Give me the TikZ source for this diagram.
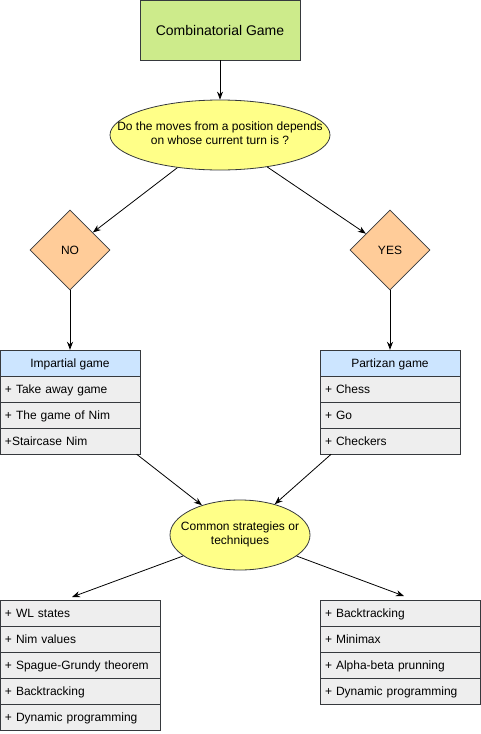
\documentclass[tikz,border=0pt]{standalone}
\usepackage{fontspec}
\setmainfont{Liberation Sans}
\usetikzlibrary{shapes.geometric,arrows.meta}
\definecolor{strk}{HTML}{36393D}
\definecolor{greenf}{HTML}{CDEB8B}
\definecolor{yelf}{HTML}{FFFF88}
\definecolor{orngf}{HTML}{FFCC99}
\definecolor{bluf}{HTML}{CCE5FF}
\definecolor{gryf}{HTML}{EEEEEE}
\tikzset{
  box/.style={draw=strk, line width=0.8pt},
  startbox/.style={box, fill=greenf, minimum width=160pt, minimum height=60pt, inner sep=0pt, font=\fontsize{14}{16}\selectfont},
  oval/.style={box, ellipse, fill=yelf, inner sep=0pt, font=\fontsize{12}{14}\selectfont},
  dia/.style={box, diamond, fill=orngf, minimum width=80pt, minimum height=80pt, inner sep=0pt, font=\fontsize{12}{14}\selectfont},
  head/.style={box, fill=bluf, minimum width=140pt, minimum height=26pt, inner sep=0pt, text height=8.6pt, text depth=0pt, font=\fontsize{12}{14}\selectfont},
  row/.style={box, fill=gryf, minimum height=26pt, inner xsep=5pt, inner ysep=0pt, align=left, text height=8.6pt, text depth=0pt, font=\fontsize{12}{14}\selectfont},
  rowa/.style={row, text width=130pt},
  rowb/.style={row, text width=150pt},
  holder/.style={draw=none, inner sep=0pt},
  conn/.style={-{Stealth[length=8pt,width=6pt]}, line width=0.8pt, black},
}
\begin{document}
\begin{tikzpicture}[x=1pt,y=-1pt]
\useasboundingbox (0,0) rectangle (481,734);
% top
\node[startbox] (top) at (220,30) {Combinatorial Game};
\node[oval, minimum width=220pt, minimum height=70pt] (q) at (220,135)
  {\makebox[0pt][c]{\begin{tabular}{@{}c@{}}Do the moves from a position depends\\ on whose current turn is ?\end{tabular}}};
\node[dia] (no) at (70,250) {NO};
\node[dia] (yes) at (390,250) {YES};
% impartial list
\node[holder, minimum width=140pt, minimum height=104pt] (imp) at (70,402) {};
\node[head] (imph) at (70,363) {Impartial game};
\node[rowa] (imp1) at (70,389) {+ Take away game};
\node[rowa] (imp2) at (70,415) {+ The game of Nim};
\node[rowa] (imp3) at (70,441) {+Staircase Nim};
% partizan list
\node[holder, minimum width=140pt, minimum height=104pt] (par) at (390,402) {};
\node[head] (parh) at (390,363) {Partizan game};
\node[rowa] (par1) at (390,389) {+ Chess};
\node[rowa] (par2) at (390,415) {+ Go};
\node[rowa] (par3) at (390,441) {+ Checkers};
% common
\node[oval, minimum width=140pt, minimum height=70pt] (com) at (240,535)
  {\makebox[0pt][c]{\begin{tabular}{@{}c@{}}Common strategies or\\ techniques\end{tabular}}};
% bottom left list
\node[rowb] (l1) at (80,613) {+ WL states};
\node[rowb] (l2) at (80,639) {+ Nim values};
\node[rowb] (l3) at (80,665) {+ Spague-Grundy theorem};
\node[rowb] (l4) at (80,691) {+ Backtracking};
\node[rowb] (l5) at (80,717) {+ Dynamic programming};
% bottom right list
\node[rowb] (r1) at (400,613) {+ Backtracking};
\node[rowb] (r2) at (400,639) {+ Minimax};
\node[rowb] (r3) at (400,665) {+ Alpha-beta prunning};
\node[rowb] (r4) at (400,691) {+ Dynamic programming};
\coordinate (lin) at (72,597);
\coordinate (rin) at (404,596);
% connectors
\draw[conn] (top) -- (q);
\draw[conn] (q) -- (no);
\draw[conn] (q) -- (yes);
\draw[conn] (no) -- (imp);
\draw[conn] (yes) -- (par);
\draw[conn] (imp) -- (com);
\draw[conn] (par) -- (com);
\draw[conn] (com) -- (lin);
\draw[conn] (com) -- (rin);
\end{tikzpicture}
\end{document}
